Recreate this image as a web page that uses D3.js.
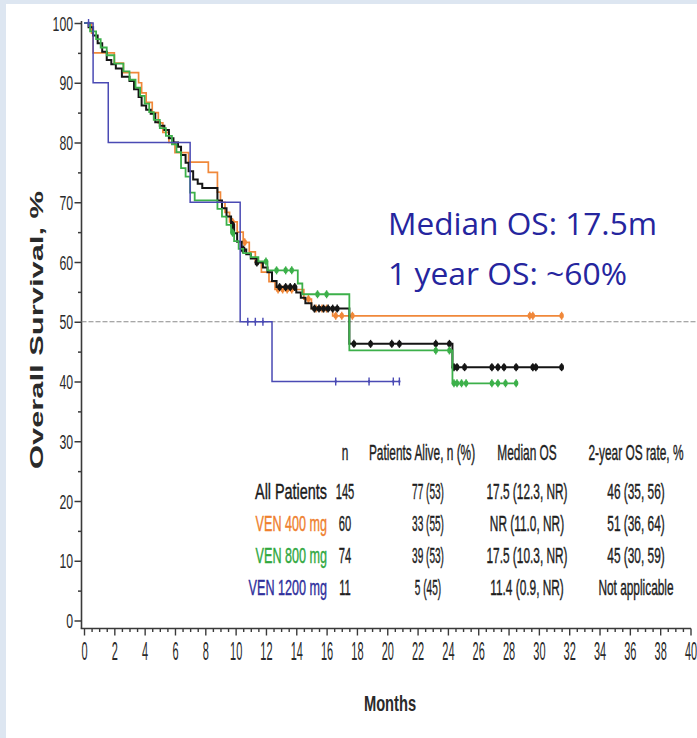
<!DOCTYPE html>
<html>
<head>
<meta charset="utf-8">
<script src="https://cdn.jsdelivr.net/npm/d3@7"></script>
<style>
  html, body { margin: 0; padding: 0; background: #fff; }
  svg { display: block; }
</style>
</head>
<body>
<script>
// Kaplan–Meier overall survival, all patients and by venetoclax dose.
// Each curve: event times (months) and the survival (%) reached at that time.

const allTimes = [0.3,0.6,0.9,1.2,1.5,1.8,2.1,2.5,3.0,3.3,3.6,3.8,4.1,4.4,4.7,5.0,5.3,5.6,5.9,6.2,6.4,6.7,6.9,7.2,7.5,7.8,8.8,9.1,9.4,9.7,9.9,10.1,10.4,10.7,11.0,11.4,11.8,12.1,12.4,12.7,14.0,14.3,14.6,15.0,17.5,24.3];
const allSurv  = [99.3,97.9,96.6,95.2,93.8,93.1,92.4,91.0,90.3,88.9,87.6,86.2,85.5,84.8,83.4,82.8,82.1,80.7,80.0,79.3,77.9,76.6,75.2,73.8,73.1,72.4,70.3,69.0,67.6,66.2,64.8,63.4,62.1,61.3,60.6,59.9,59.1,58.3,56.8,55.8,54.9,54.0,53.1,52.2,46.3,42.4];
const allCensored = [9.8,10.5,11.4,12.9,13.3,13.6,13.9,15.2,15.5,15.8,16.1,16.4,16.7,17.8,18.9,20.3,20.8,23.2,24.1,24.4,24.6,25.1,26.9,27.3,27.7,28.5,29.6,29.8,31.5];
const allLastFollowUp = 31.5;

const ven400Times = [0.5,0.6,2.0,2.6,3.6,3.8,4.1,4.5,4.9,5.2,5.6,6.0,6.9,8.2,8.8,9.0,9.3,9.6,10.1,10.5,10.9,11.3,11.7,12.2,12.6,14.5,15.0,16.4];
const ven400Surv  = [98.3,95.0,93.3,91.7,90.0,88.3,86.7,85.0,83.3,81.7,80.0,78.3,76.7,75.0,71.7,70.0,68.3,66.7,65.0,63.3,61.7,60.0,58.3,56.7,55.4,53.8,52.2,51.0];
const ven400Censored = [9.8,10.6,12.8,13.1,13.4,13.7,14.8,15.3,15.7,16.0,16.6,17.0,17.7,29.4,29.6,31.5];
const ven400LastFollowUp = 31.5;

const ven800Times = [0.4,0.8,1.1,1.5,2.0,2.6,3.0,3.4,3.7,4.0,4.3,4.6,5.0,5.4,5.8,6.1,6.4,6.7,7.0,7.3,8.8,9.1,9.4,9.7,9.9,10.2,10.5,11.0,11.5,12.1,14.1,14.4,17.5,24.3];
const ven800Surv  = [98.6,97.3,95.9,94.6,93.2,91.9,90.5,89.2,87.8,86.5,85.1,83.8,82.4,81.1,79.7,78.4,75.7,74.3,71.6,70.3,68.9,67.6,66.2,64.9,63.5,62.2,61.5,60.8,60.1,58.6,56.4,54.6,45.2,39.7];
const ven800Censored = [9.8,12.0,12.7,13.3,13.7,15.4,16.0,23.2,24.1,24.4,24.6,24.9,25.2,26.9,27.3,27.8,28.5];
const ven800LastFollowUp = 28.5;

const ven1200Times = [0.6,1.6,7.0,10.3,12.4];
const ven1200Surv  = [90.0,80.0,70.0,50.0,40.0];
const ven1200Censored = [0.3,10.8,11.3,11.8,16.6,18.8,20.4,20.8];
const ven1200LastFollowUp = 20.8;

// Axis ticks
const yTickValues = [0,10,20,30,40,50,60,70,80,90,100];
const xTickValues = [0,2,4,6,8,10,12,14,16,18,20,22,24,26,28,30,32,34,36,38,40];

// Summary table
const tableHeader  = ["n", "Patients Alive, n (%)", "Median OS", "2-year OS rate, %"];
const groupNames   = ["All Patients", "VEN 400 mg", "VEN 800 mg", "VEN 1200 mg"];
const groupN       = ["145", "60", "74", "11"];
const groupAlive   = ["77 (53)", "33 (55)", "39 (53)", "5 (45)"];
const groupMedian  = ["17.5 (12.3, NR)", "NR (11.0, NR)", "17.5 (10.3, NR)", "11.4 (0.9, NR)"];
const groupRate2y  = ["46 (35, 56)", "51 (36, 64)", "45 (30, 59)", "Not applicable"];

const calloutLines = ["Median OS: 17.5m", "1 year OS: ~60%"];

// ---------------------------------------------------------------
const W = 697, H = 738;
const colors = { all: "#151515", v400: "#f0883a", v800: "#3cb04a", v1200: "#4a4ab4" };
const labelColors = ["#1a1a1a", "#ef7f2e", "#2fa83e", "#2f2f9c"];

const series = [
  { key: "v400",  times: ven400Times,  surv: ven400Surv,  cens: ven400Censored,  end: ven400LastFollowUp,  color: colors.v400,  width: 1.7, dot: 2.6 },
  { key: "all",   times: allTimes,     surv: allSurv,     cens: allCensored,     end: allLastFollowUp,     color: colors.all,   width: 2.0, dot: 2.8 },
  { key: "v800",  times: ven800Times,  surv: ven800Surv,  cens: ven800Censored,  end: ven800LastFollowUp,  color: colors.v800,  width: 1.8, dot: 2.6 },
  { key: "v1200", times: ven1200Times, surv: ven1200Surv, cens: ven1200Censored, end: ven1200LastFollowUp, color: colors.v1200, width: 1.5, dot: 1.3 }
];

const svg = d3.select("body").append("svg").attr("width", W).attr("height", H);

// slide frame
svg.append("rect").attr("width", W).attr("height", H).attr("fill", "#dde6f1");
svg.append("rect").attr("x", 6).attr("y", 4).attr("width", W - 6).attr("height", H - 4).attr("fill", "#ffffff");

const x = d3.scaleLinear().domain([0, 40]).range([84, 690.5]);
const y = d3.scaleLinear().domain([0, 100]).range([620.5, 23]);

const axisColor = "#3a3a3a";
const tickFont = "'Liberation Sans', Arial, sans-serif";

// Y axis: major ticks with labels, minor ticks in their own group
const yAxisX = 81.5;
const gy = svg.append("g").attr("transform", `translate(${yAxisX},0)`);
gy.call(d3.axisLeft(y).tickValues(yTickValues).tickSize(7).tickSizeOuter(0).tickFormat(d3.format("d")));
const gyMinor = svg.append("g").attr("transform", `translate(${yAxisX},0)`);
gyMinor.call(d3.axisLeft(y).tickValues(d3.range(5, 100, 10)).tickSize(3.5).tickSizeOuter(0).tickFormat(""));
[gy, gyMinor].forEach(g => {
  g.selectAll(".domain").remove();
  g.selectAll("line").attr("stroke", axisColor).attr("stroke-width", 1.5);
});
gy.selectAll("text")
  .attr("x", 0).attr("dy", "0.36em")
  .attr("transform", "translate(-8.5,0) scale(0.68,1.08)")
  .attr("fill", "#2a2a2a").style("font-family", tickFont).style("font-size", "18px");
svg.append("line").attr("x1", yAxisX).attr("x2", yAxisX).attr("y1", 21).attr("y2", 628.5)
  .attr("stroke", axisColor).attr("stroke-width", 1.6);

// X axis
const xAxisY = 628.5;
const gx = svg.append("g").attr("transform", `translate(0,${xAxisY})`);
gx.call(d3.axisBottom(x).tickValues(xTickValues).tickSize(7).tickSizeOuter(0).tickFormat(d3.format("d")));
const gxMinor = svg.append("g").attr("transform", `translate(0,${xAxisY})`);
gxMinor.call(d3.axisBottom(x).tickValues(d3.range(0.5, 40, 0.5).filter(v => v % 2 !== 0)).tickSize(3.5).tickSizeOuter(0).tickFormat(""));
[gx, gxMinor].forEach(g => {
  g.selectAll(".domain").remove();
  g.selectAll("line").attr("stroke", axisColor).attr("stroke-width", 1.4);
});
gx.selectAll("text")
  .attr("y", 0).attr("dy", 0)
  .attr("transform", "translate(0,31) scale(0.5,1.15)")
  .attr("fill", "#2a2a2a").style("font-family", tickFont).style("font-size", "22px");
svg.append("line").attr("x1", yAxisX - 0.8).attr("x2", 691).attr("y1", xAxisY).attr("y2", xAxisY)
  .attr("stroke", axisColor).attr("stroke-width", 1.6);

// Axis titles
svg.append("text")
  .attr("transform", `translate(43,330) rotate(-90)`)
  .attr("text-anchor", "middle")
  .attr("textLength", 278).attr("lengthAdjust", "spacingAndGlyphs")
  .style("font-family", tickFont).style("font-weight", "bold").style("font-size", "18px")
  .attr("fill", "#2a2a2a").text("Overall Survival, %");

svg.append("text")
  .attr("transform", "translate(390,711) scale(0.7,1.05)")
  .attr("text-anchor", "middle")
  .style("font-family", tickFont).style("font-weight", "bold").style("font-size", "21px")
  .attr("fill", "#2a2a2a").text("Months");

// 50% reference line
svg.append("line")
  .attr("x1", yAxisX).attr("x2", W).attr("y1", y(50)).attr("y2", y(50))
  .attr("stroke", "#8a8a8a").attr("stroke-width", 1.2).attr("stroke-dasharray", "5,2");

// Survival curves
const stepLine = d3.line().x(d => x(d[0])).y(d => y(d[1])).curve(d3.curveStepAfter);
function survivalAt(s, t) {
  let v = 100;
  for (let i = 0; i < s.times.length; i++) if (s.times[i] <= t) v = s.surv[i];
  return v;
}

series.forEach(s => {
  const pts = [[0, 100]].concat(s.times.map((t, i) => [t, s.surv[i]]));
  pts.push([s.end, s.surv[s.surv.length - 1]]);
  const g = svg.append("g");
  g.append("path").attr("d", stepLine(pts))
    .attr("fill", "none").attr("stroke", s.color).attr("stroke-width", s.width);
  const marks = g.selectAll("g.cens").data(s.cens).enter().append("g")
    .attr("transform", t => `translate(${x(t)},${y(survivalAt(s, t))})`);
  marks.append("line").attr("y1", -4).attr("y2", 4)
    .attr("stroke", s.color).attr("stroke-width", 1.4);
  marks.append("ellipse").attr("rx", s.dot * 0.85).attr("ry", s.dot * 1.15).attr("fill", s.color);
});

// Call-out text
const calloutFont = "'Open Sans', Lato, sans-serif";
const calloutWidths = [269, 239];
calloutLines.forEach((txt, i) => {
  svg.append("text")
    .attr("x", 388).attr("y", 235 + i * 50)
    .attr("textLength", calloutWidths[i]).attr("lengthAdjust", "spacingAndGlyphs")
    .style("font-family", calloutFont).style("font-size", "31px")
    .attr("fill", "#25259e").text(txt);
});

// Summary table
const tableFont = "'Liberation Sans', Arial, sans-serif";
const colCenters = [345, 422, 527, 636];
const labelRight = 327;
const headerY = 460;
const rowY = [499, 531, 563, 595];
function condensed(xp, yp, str, anchor, fill, sx) {
  svg.append("text")
    .attr("transform", `translate(${xp},${yp}) scale(${sx},1.18)`)
    .attr("text-anchor", anchor)
    .style("font-family", tableFont).style("font-size", "18px")
    .attr("fill", fill).attr("stroke", fill).attr("stroke-width", 0.35)
    .text(str);
}
tableHeader.forEach((h, i) => condensed(colCenters[i], headerY, h, "middle", "#1e1e1e", 0.66));
groupNames.forEach((name, r) => {
  condensed(labelRight, rowY[r], name, r === 0 ? "end" : "end", labelColors[r], r === 0 ? 0.8 : 0.7);
  condensed(colCenters[0], rowY[r], groupN[r], "middle", "#1e1e1e", 0.62);
  condensed(colCenters[1] + 6, rowY[r], groupAlive[r], "middle", "#1e1e1e", 0.56);
  condensed(colCenters[2], rowY[r], groupMedian[r], "middle", "#1e1e1e", 0.66);
  condensed(colCenters[3], rowY[r], groupRate2y[r], "middle", "#1e1e1e", 0.66);
});
</script>
</body>
</html>
